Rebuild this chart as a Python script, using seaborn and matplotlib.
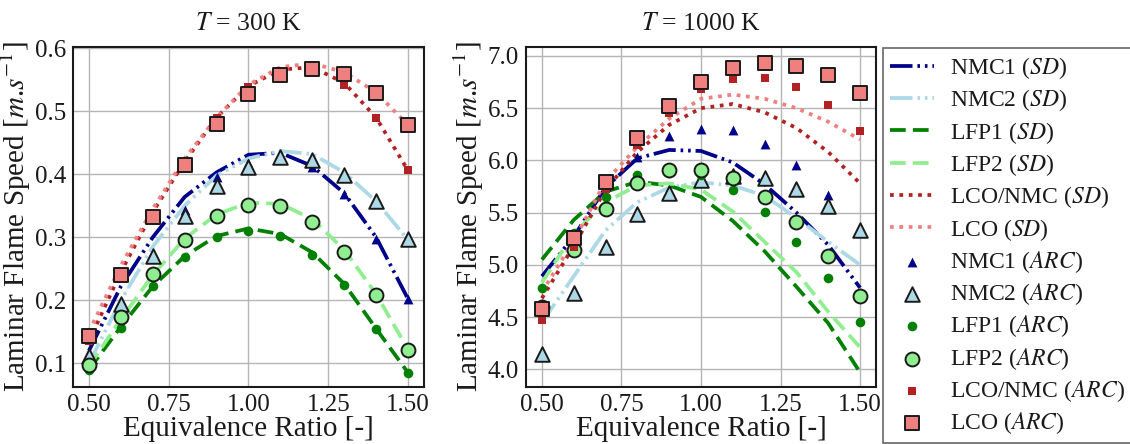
import matplotlib
matplotlib.use("Agg")
import matplotlib.pyplot as plt
import seaborn as sns

# Equivalence ratio sweep shared by both temperatures
phi = [0.5, 0.6, 0.7, 0.8, 0.9, 1.0, 1.1, 1.2, 1.3, 1.4, 1.5]

# ---- T = 300 K : laminar flame speed [m/s] ----
sd300_nmc1 = [0.12, 0.222, 0.300, 0.364, 0.403, 0.431, 0.434, 0.413, 0.370, 0.300, 0.202]
sd300_nmc2 = [0.10, 0.200, 0.285, 0.350, 0.398, 0.425, 0.437, 0.432, 0.403, 0.357, 0.296]
sd300_lfp1 = [0.09, 0.158, 0.222, 0.270, 0.302, 0.314, 0.305, 0.276, 0.226, 0.155, 0.085]
sd300_lfp2 = [0.095, 0.170, 0.240, 0.298, 0.336, 0.355, 0.353, 0.329, 0.280, 0.210, 0.122]
sd300_lconmc = [0.135, 0.245, 0.340, 0.420, 0.490, 0.540, 0.566, 0.570, 0.545, 0.490, 0.406]
sd300_lco = [0.150, 0.255, 0.345, 0.425, 0.490, 0.542, 0.570, 0.576, 0.562, 0.530, 0.478]

arc300_nmc1 = [0.110, 0.198, 0.275, 0.343, 0.396, 0.418, 0.428, 0.411, 0.369, 0.297, 0.202]
arc300_nmc2 = [0.112, 0.194, 0.270, 0.333, 0.381, 0.412, 0.427, 0.423, 0.399, 0.358, 0.297]
arc300_lfp1 = [0.089, 0.156, 0.222, 0.268, 0.300, 0.310, 0.302, 0.272, 0.224, 0.154, 0.084]
arc300_lfp2 = [0.097, 0.173, 0.241, 0.296, 0.333, 0.351, 0.349, 0.325, 0.277, 0.208, 0.121]
arc300_lconmc = [0.135, 0.238, 0.333, 0.420, 0.490, 0.538, 0.564, 0.569, 0.542, 0.490, 0.406]
arc300_lco = [0.143, 0.240, 0.332, 0.414, 0.479, 0.527, 0.557, 0.567, 0.559, 0.529, 0.478]

# ---- T = 1000 K : laminar flame speed [m/s] ----
sd1000_nmc1 = [4.89, 5.27, 5.74, 6.02, 6.10, 6.09, 5.98, 5.77, 5.50, 5.19, 4.78]
sd1000_nmc2 = [4.45, 4.89, 5.33, 5.60, 5.74, 5.79, 5.76, 5.66, 5.45, 5.22, 5.00]
sd1000_lfp1 = [5.05, 5.43, 5.70, 5.795, 5.76, 5.65, 5.42, 5.13, 4.79, 4.44, 3.97]
sd1000_lfp2 = [4.83, 5.30, 5.60, 5.76, 5.78, 5.72, 5.51, 5.22, 4.93, 4.55, 4.21]
sd1000_lconmc = [4.68, 5.18, 5.72, 6.08, 6.34, 6.50, 6.54, 6.46, 6.31, 6.08, 5.78]
sd1000_lco = [4.74, 5.23, 5.80, 6.13, 6.40, 6.59, 6.63, 6.59, 6.50, 6.37, 6.20]

arc1000_nmc1 = [4.58, 5.20, 5.75, 6.035, 6.23, 6.30, 6.29, 6.16, 5.955, 5.67, 5.34]
arc1000_nmc2 = [4.145, 4.73, 5.174, 5.49, 5.69, 5.81, 5.85, 5.83, 5.73, 5.566, 5.333]
arc1000_lfp1 = [4.78, 5.30, 5.65, 5.86, 5.88, 5.86, 5.72, 5.51, 5.22, 4.87, 4.457]
arc1000_lfp2 = [4.60, 5.14, 5.535, 5.78, 5.905, 5.91, 5.83, 5.652, 5.407, 5.088, 4.70]
arc1000_lconmc = [4.47, 5.17, 5.73, 6.146, 6.45, 6.68, 6.78, 6.79, 6.70, 6.53, 6.28]
arc1000_lco = [4.575, 5.254, 5.79, 6.21, 6.522, 6.751, 6.885, 6.933, 6.908, 6.815, 6.65]

names = ["NMC1", "NMC2", "LFP1", "LFP2", "LCO/NMC", "LCO"]
colors = ["darkblue", "lightblue", "green", "lightgreen", "firebrick", "lightcoral"]

x_ticks = [0.50, 0.75, 1.00, 1.25, 1.50]
y_ticks_300 = [0.1, 0.2, 0.3, 0.4, 0.5, 0.6]
y_ticks_1000 = [4.0, 4.5, 5.0, 5.5, 6.0, 6.5, 7.0]

sns.set_theme(style="whitegrid")
plt.rcParams["font.family"] = ["Liberation Serif", "DejaVu Serif"]
plt.rcParams["mathtext.fontset"] = "stix"

dash_dot_dot = (0, (6.0, 1.3, 0.7, 1.3, 0.7, 1.3))
dashed = (0, (4.2, 1.9))
dotted = (0, (1.0, 1.5))
line_styles = [dash_dot_dot, dash_dot_dot, dashed, dashed, dotted, dotted]

# marker, size (points^2), edge colour, edge width
marker_specs = [
    ("^", 50, "darkblue", 0.0),
    ("^", 110, "#1a1a1a", 1.4),
    ("o", 48, "green", 0.0),
    ("o", 100, "#1a1a1a", 1.4),
    ("s", 40, "firebrick", 0.0),
    ("s", 100, "#1a1a1a", 1.4),
]

fig = plt.figure(figsize=(11.3, 4.44), dpi=100)
ax1 = fig.add_axes([0.0646, 0.1284, 0.3106, 0.7658])
ax2 = fig.add_axes([0.4655, 0.1284, 0.3097, 0.7658])

panels = [
    (ax1, [sd300_nmc1, sd300_nmc2, sd300_lfp1, sd300_lfp2, sd300_lconmc, sd300_lco],
     [arc300_nmc1, arc300_nmc2, arc300_lfp1, arc300_lfp2, arc300_lconmc, arc300_lco],
     r"$T$ = 300 K", (0.0624, 0.602), y_ticks_300),
    (ax2, [sd1000_nmc1, sd1000_nmc2, sd1000_lfp1, sd1000_lfp2, sd1000_lconmc, sd1000_lco],
     [arc1000_nmc1, arc1000_nmc2, arc1000_lfp1, arc1000_lfp2, arc1000_lconmc, arc1000_lco],
     r"$T$ = 1000 K", (3.83, 7.086), y_ticks_1000),
]

for ax, sd_sets, arc_sets, title, ylim, yticks in panels:
    for name, col, ls, vals in zip(names, colors, line_styles, sd_sets):
        sns.lineplot(x=phi, y=vals, ax=ax, color=col, linewidth=2.7,
                     linestyle=ls, label=name + r" ($SD$)", zorder=2)
    for name, col, spec, vals in zip(names, colors, marker_specs, arc_sets):
        mk, size, ec, lw = spec
        sns.scatterplot(x=phi, y=vals, ax=ax, color=col, marker=mk, s=size,
                        edgecolor=ec, linewidth=lw, label=name + r" ($ARC$)", zorder=3)
    leg = ax.get_legend()
    if leg is not None:
        leg.remove()
    ax.set_xlim(0.45, 1.55)
    ax.set_ylim(*ylim)
    ax.set_xticks(x_ticks)
    ax.set_xticklabels(["{:.2f}".format(v) for v in x_ticks])
    ax.set_yticks(yticks)
    ax.set_yticklabels(["{:.1f}".format(v) for v in yticks])
    ax.tick_params(axis="both", labelsize=18, length=3.5, width=1.0, pad=1.5,
                   color="#1a1a1a", labelcolor="#1a1a1a", direction="out")
    ax.grid(True, color="#b5b5b5", linewidth=1.0)
    ax.set_axisbelow(True)
    for sp in ax.spines.values():
        sp.set_color("#1a1a1a")
        sp.set_linewidth(1.5)
    ax.set_xlabel("Equivalence Ratio [-]", fontsize=21, labelpad=0, color="#1a1a1a")
    ax.set_ylabel(r"Laminar Flame Speed [$m$.$s^{-1}$]", fontsize=21, labelpad=1,
                  color="#1a1a1a")
    ax.set_title(title, fontsize=18.5, pad=12, color="#1a1a1a")

handles, labels = ax1.get_legend_handles_labels()
legend = fig.legend(handles, labels, loc="upper left", bbox_to_anchor=(0.7814, 0.892),
                    borderaxespad=0.0, frameon=True, fancybox=False, fontsize=17,
                    handlelength=1.85, handletextpad=0.7, labelspacing=0.27,
                    borderpad=0.3, scatterpoints=1, framealpha=1.0)
legend.get_frame().set_edgecolor("#666666")
legend.get_frame().set_linewidth(1.2)
for t in legend.get_texts():
    t.set_color("#1a1a1a")

fig.savefig("out.png", dpi=100)
